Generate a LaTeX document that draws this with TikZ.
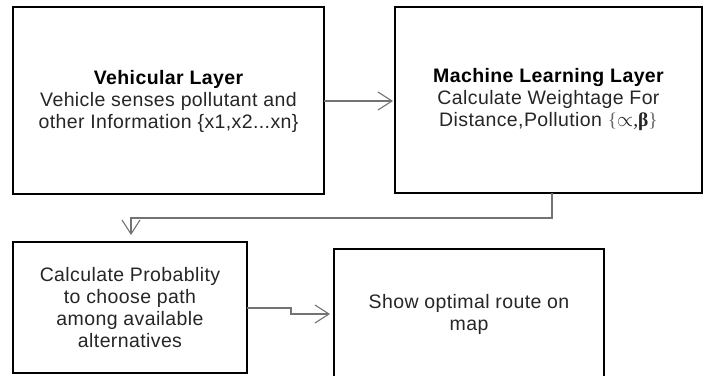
\documentclass[tikz,border=0pt]{standalone}
\usepackage{fontspec}
\setmainfont{Liberation Sans}[LetterSpace=2]
\newfontfamily\serifsym{Liberation Serif}
\usetikzlibrary{arrows.meta}
\tikzset{
  layerbox/.style={draw=black, line width=1.8pt, fill=white},
  boxtext/.style={align=center, font=\fontsize{19.5}{22}\selectfont, text=black!85},
  flow/.style={draw=black!55, line width=1.3pt, -{Straight Barb[length=14pt,width=18pt,line width=1.1pt]}},
}
\begin{document}
\begin{tikzpicture}[x=1pt,y=-1pt]
\useasboundingbox (0,0) rectangle (712,375);
\clip (0,0) rectangle (712,375);
% boxes
\draw[layerbox] (13,7) rectangle (324,194);
\draw[layerbox] (395,7) rectangle (702,193);
\draw[layerbox] (13,242) rectangle (247,373);
\draw[layerbox] (334,249) rectangle (604,390);
% anchors
\coordinate (b1e) at (324,101);
\coordinate (b2w) at (393,101);
\coordinate (b2s) at (552,193);
\coordinate (b3n) at (131,235);
\coordinate (b3e) at (247,308);
\coordinate (b4w) at (330,314);
% texts
\node[boxtext] (t1) at (168.5,101) {\textbf{\textcolor{black}{Vehicular Layer}}\\Vehicle senses pollutant and\\other Information \{x1,x2...xn\}};
\node[boxtext] (t2) at (548.5,100) {\textbf{\textcolor{black}{Machine Learning Layer}}\\Calculate Weightage For\\Distance,Pollution {\serifsym\textcolor{black!60}{\{}$\propto$,\textbf{β}\textcolor{black!60}{\}}}};
\node[boxtext] (t3) at (130,308) {Calculate Probablity\\to choose path\\among available\\alternatives};
\node[boxtext] (t4) at (469,314) {Show optimal route on\\map};
% connectors
\draw[flow] (b1e) -- (b2w);
\draw[flow] (b2s) -- (552,218) -- (131,218) -- (b3n);
\draw[flow] (b3e) -- (291,308) -- (291,314) -- (b4w);
\end{tikzpicture}
\end{document}
